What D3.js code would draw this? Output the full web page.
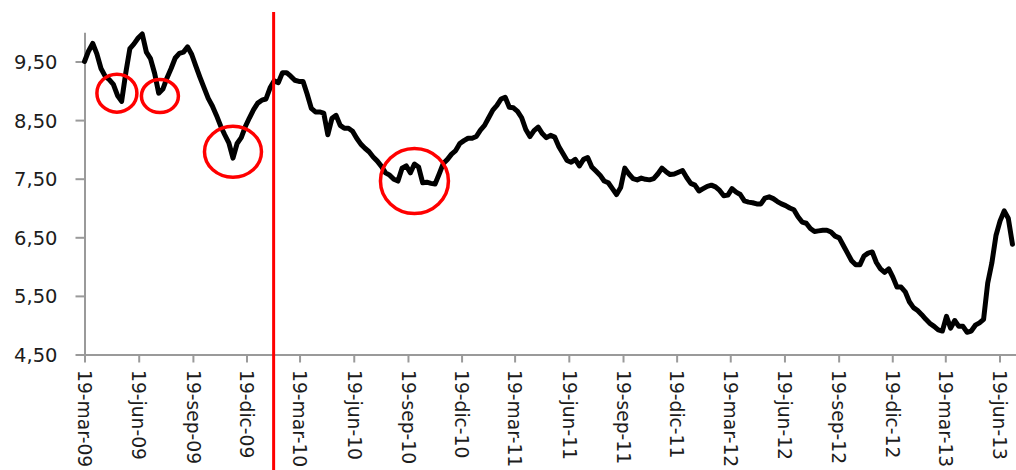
<!DOCTYPE html>
<html><head><meta charset="utf-8">
<script src="https://cdn.jsdelivr.net/npm/d3@7"></script>
<style>
html,body{margin:0;padding:0;background:#fff;}
svg{display:block;font-family:"DejaVu Sans",Verdana,sans-serif;}
</style></head><body>
<svg id="chart" width="1016" height="470"></svg>
<script>
// ---- data ----
const firstWeek = "2009-03-19";
const weeklyValues = [
9.50, 9.68, 9.81, 9.63, 9.38, 9.25, 9.19, 9.11, 8.92, 8.82,
9.30, 9.72, 9.80, 9.90, 9.97, 9.66, 9.55, 9.30, 8.96, 9.03,
9.22, 9.38, 9.56, 9.64, 9.66, 9.75, 9.62, 9.42, 9.23, 9.05,
8.87, 8.74, 8.58, 8.40, 8.25, 8.11, 7.85, 8.10, 8.20, 8.39,
8.54, 8.68, 8.79, 8.84, 8.86, 9.05, 9.17, 9.14, 9.31, 9.31,
9.25, 9.18, 9.16, 9.16, 8.94, 8.70, 8.64, 8.64, 8.62, 8.25,
8.53, 8.58, 8.41, 8.36, 8.36, 8.31, 8.19, 8.09, 8.02, 7.96,
7.87, 7.80, 7.71, 7.60, 7.56, 7.49, 7.46, 7.68, 7.72, 7.60,
7.75, 7.70, 7.43, 7.44, 7.42, 7.41, 7.58, 7.76, 7.83, 7.92,
7.98, 8.10, 8.15, 8.19, 8.19, 8.22, 8.33, 8.41, 8.54, 8.67,
8.75, 8.86, 8.89, 8.72, 8.71, 8.65, 8.54, 8.34, 8.22, 8.32,
8.38, 8.27, 8.20, 8.24, 8.21, 8.05, 7.93, 7.81, 7.78, 7.83,
7.72, 7.83, 7.86, 7.70, 7.63, 7.56, 7.46, 7.43, 7.33, 7.23,
7.35, 7.68, 7.58, 7.50, 7.48, 7.51, 7.49, 7.48, 7.50, 7.58,
7.68, 7.62, 7.57, 7.58, 7.61, 7.64, 7.52, 7.42, 7.39, 7.29,
7.33, 7.37, 7.39, 7.36, 7.30, 7.21, 7.22, 7.33, 7.27, 7.23,
7.12, 7.10, 7.09, 7.07, 7.07, 7.17, 7.19, 7.16, 7.11, 7.07,
7.04, 7.00, 6.97, 6.85, 6.76, 6.74, 6.65, 6.60, 6.61, 6.62,
6.62, 6.59, 6.52, 6.49, 6.36, 6.23, 6.10, 6.03, 6.03, 6.18,
6.23, 6.25, 6.07, 5.96, 5.90, 5.96, 5.82, 5.65, 5.65, 5.57,
5.40, 5.30, 5.25, 5.18, 5.10, 5.03, 4.98, 4.92, 4.90, 5.15,
4.95, 5.08, 4.98, 4.98, 4.88, 4.90, 5.00, 5.04, 5.10, 5.72,
6.06, 6.53, 6.78, 6.95, 6.82, 6.38
];
const xDomainDates = ["2009-03-19", "2013-07-17"];
const yDomainValues = [4.5, 10];
const xTickDates = ["2009-03-19","2009-06-19","2009-09-19","2009-12-19",
  "2010-03-19","2010-06-19","2010-09-19","2010-12-19",
  "2011-03-19","2011-06-19","2011-09-19","2011-12-19",
  "2012-03-19","2012-06-19","2012-09-19","2012-12-19",
  "2013-03-19","2013-06-19"];
const xTickLabels = ["19-mar-09","19-jun-09","19-sep-09","19-dic-09",
  "19-mar-10","19-jun-10","19-sep-10","19-dic-10",
  "19-mar-11","19-jun-11","19-sep-11","19-dic-11",
  "19-mar-12","19-jun-12","19-sep-12","19-dic-12",
  "19-mar-13","19-jun-13"];
const yTickValues = [4.5, 5.5, 6.5, 7.5, 8.5, 9.5];
const yTickLabels = ["4,50","5,50","6,50","7,50","8,50","9,50"];
const markerDate = "2010-02-03";
const circleDates = ["2009-05-13","2009-07-25","2009-11-26","2010-09-30"];
const circleValues = [8.96, 8.91, 7.96, 7.46];

// ---- layout / style ----
const W = 1016, H = 470;
const plotLeft = 84.5, plotRight = 1016, plotTop = 32.2, plotBottom = 354.5;
const circleRx = [20, 18.5, 28.5, 34];
const circleRy = [19, 16.5, 25.5, 32.5];
const axisColor = "#9a9a9a", textColor = "#1c1c1c";

const parse = d3.timeParse("%Y-%m-%d");
const start = parse(firstWeek);
const series = weeklyValues.map((v, i) => ({date: d3.timeDay.offset(start, 7 * i), value: v}));

const x = d3.scaleTime().domain(xDomainDates.map(parse)).range([plotLeft, plotRight]);
const y = d3.scaleLinear().domain(yDomainValues).range([plotBottom, plotTop]);

const svg = d3.select("#chart");

// y axis
const gy = svg.append("g").attr("transform", `translate(${plotLeft},0)`)
  .call(d3.axisLeft(y).tickValues(yTickValues).tickFormat((d, i) => yTickLabels[i])
    .tickSize(9).tickSizeOuter(0).tickPadding(18));
gy.select(".domain").attr("stroke", axisColor).attr("stroke-width", 2);
gy.selectAll(".tick line").attr("stroke", axisColor).attr("stroke-width", 2);
gy.selectAll(".tick text").attr("fill", textColor).style("font-size", "19.5px")
  .style("font-family", '"DejaVu Sans", Verdana, sans-serif').attr("dy", "0.36em");

// x axis
const gx = svg.append("g").attr("transform", `translate(0,${plotBottom})`)
  .call(d3.axisBottom(x).tickValues(xTickDates.map(parse)).tickFormat((d, i) => xTickLabels[i])
    .tickSize(8).tickSizeOuter(0));
gx.select(".domain").attr("stroke", axisColor).attr("stroke-width", 2);
gx.selectAll(".tick line").attr("stroke", axisColor).attr("stroke-width", 2);
gx.selectAll(".tick text").attr("fill", textColor).style("font-size", "18.7px")
  .style("font-family", '"DejaVu Sans", Verdana, sans-serif')
  .attr("text-anchor", "start").attr("x", 15.5).attr("y", 0).attr("dy", "0.36em")
  .attr("transform", "rotate(90)");

// series line
svg.append("path").datum(series)
  .attr("fill", "none").attr("stroke", "#000").attr("stroke-width", 5)
  .attr("stroke-linejoin", "round").attr("stroke-linecap", "round")
  .attr("d", d3.line().x(d => x(d.date)).y(d => y(d.value)));

// red vertical marker
const mx = x(parse(markerDate));
svg.append("line").attr("x1", mx).attr("x2", mx).attr("y1", 12).attr("y2", H)
  .attr("stroke", "#ff0000").attr("stroke-width", 3);

// red circles
svg.selectAll("ellipse.mark").data(circleDates.map((d, i) => ({date: parse(d), value: circleValues[i], rx: circleRx[i], ry: circleRy[i]})))
  .join("ellipse").attr("class", "mark")
  .attr("cx", d => x(d.date)).attr("cy", d => y(d.value))
  .attr("rx", d => d.rx).attr("ry", d => d.ry)
  .attr("fill", "none").attr("stroke", "#ff0000").attr("stroke-width", 3.5);
</script>
</body></html>
